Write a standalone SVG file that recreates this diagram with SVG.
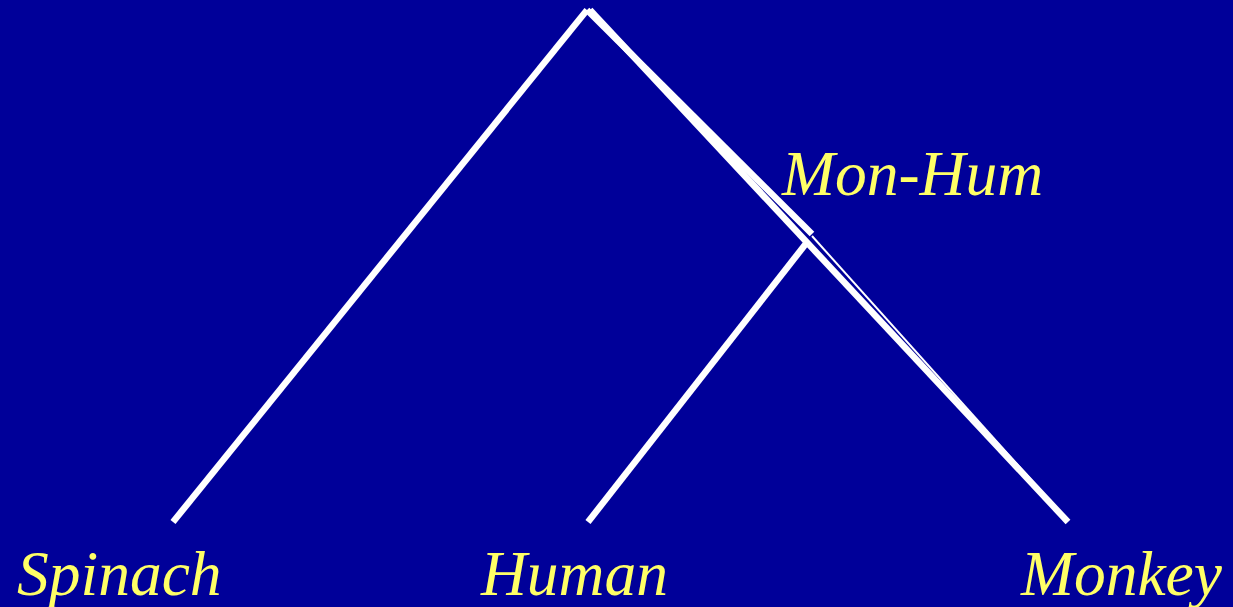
<svg xmlns="http://www.w3.org/2000/svg" width="1233" height="607" viewBox="0 0 1233 607">
<style>
.e{stroke:#fff;stroke-width:6.5;fill:none}
.t{stroke:#fff;stroke-width:2;fill:none}
.l{font-family:"Liberation Serif","Times New Roman",serif;font-style:italic;font-size:63.5px;fill:#FFFF66}
</style>
<rect width="1233" height="607" fill="#000099"/>
<g id="connectors">
<line class="e" x1="173" y1="522" x2="587" y2="10"/>
<line class="e" x1="590" y1="10" x2="1068" y2="522"/>
<line class="e" x1="587" y1="10" x2="812" y2="234"/>
<line class="t" x1="812" y1="236" x2="1060" y2="512"/>
<line class="e" x1="588" y1="522" x2="808" y2="241"/>
</g>
<g id="spinach"><text class="l" x="17" y="595">Spinach</text></g>
<g id="human"><text class="l" x="481" y="595">Human</text></g>
<g id="monkey"><text class="l" x="1021" y="595">Monkey</text></g>
<g id="monhum"><text class="l" x="782" y="195">Mon-Hum</text></g>
</svg>
